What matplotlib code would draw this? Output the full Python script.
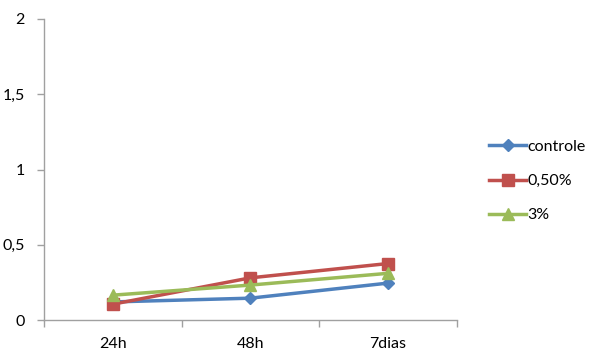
import numpy as np
import matplotlib.pyplot as plt

categories = ["24h", "48h", "7dias"]
controle = [0.12, 0.145, 0.245]
meio = [0.105, 0.28, 0.375]
tres = [0.165, 0.232, 0.31]
series_names = ["controle", "0,50%", "3%"]

plt.rcParams['font.family'] = ['Lato', 'DejaVu Sans']

fig = plt.figure(figsize=(6.02, 3.59), dpi=100)
ax = fig.add_axes([44 / 602, 39 / 359, 412.5 / 602, 301 / 359])

x = np.arange(len(categories))
ax.plot(x, controle, color='#4F81BD', lw=2.5, marker='D', ms=6.5, label=series_names[0])
ax.plot(x, meio, color='#C0504D', lw=2.5, marker='s', ms=8, label=series_names[1])
ax.plot(x, tres, color='#9BBB59', lw=2.5, marker='^', ms=8, label=series_names[2])

ax.set_xlim(-0.5, len(categories) - 0.5)
ax.set_ylim(0, 2)
ax.set_yticks([0, 0.5, 1, 1.5, 2])
ax.set_yticklabels(["0", "0,5", "1", "1,5", "2"])
ax.set_xticks(x)
ax.set_xticklabels(categories)
ax.set_xticks(np.arange(-0.5, len(categories), 1), minor=True)
ax.tick_params(axis='x', which='major', length=0, pad=12, labelsize=11.5)
ax.tick_params(axis='x', which='minor', length=5, color='#A0A0A0', width=1)
ax.tick_params(axis='y', length=5, color='#A0A0A0', width=1, pad=9, labelsize=11.5)

for s in ['top', 'right']:
    ax.spines[s].set_visible(False)
for s in ['left', 'bottom']:
    ax.spines[s].set_color('#A0A0A0')
    ax.spines[s].set_linewidth(1)

ax.legend(loc='center left', bbox_to_anchor=(475 / 602, 178 / 359),
          bbox_transform=fig.transFigure, frameon=False,
          fontsize=11.5, handlelength=2.3, handletextpad=0.1, labelspacing=1.25)

fig.savefig("out.png", dpi=100)
